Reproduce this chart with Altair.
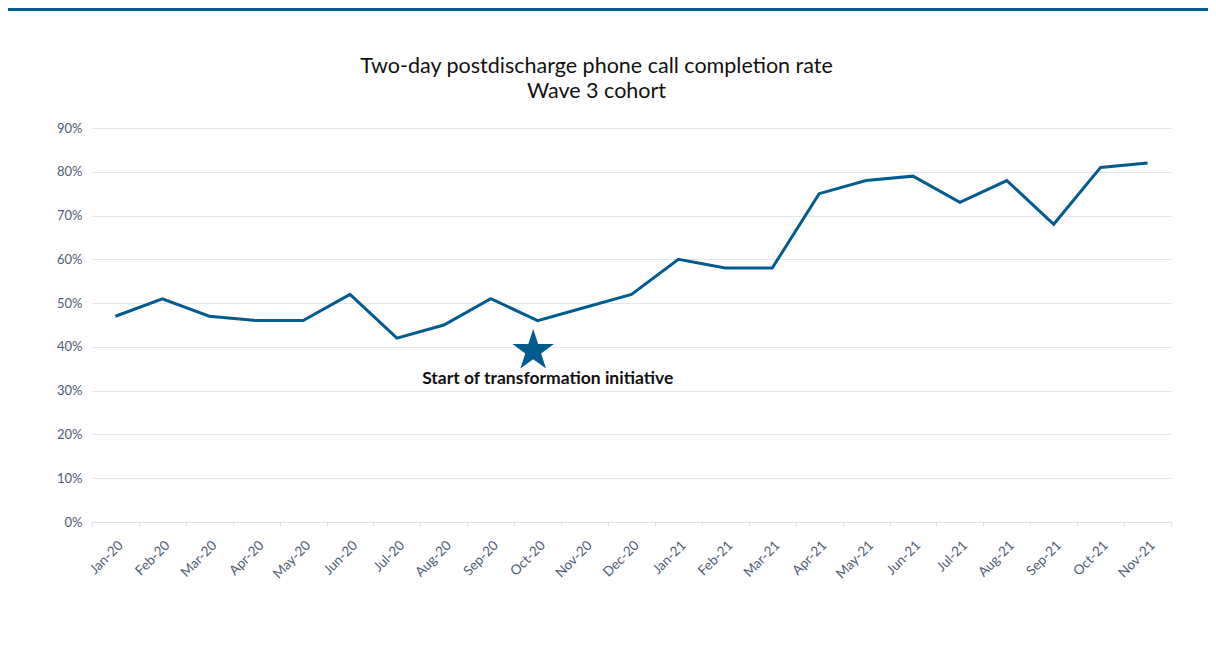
import altair as alt
import pandas as pd

months = ["Jan-20", "Feb-20", "Mar-20", "Apr-20", "May-20", "Jun-20", "Jul-20", "Aug-20",
          "Sep-20", "Oct-20", "Nov-20", "Dec-20", "Jan-21", "Feb-21", "Mar-21", "Apr-21",
          "May-21", "Jun-21", "Jul-21", "Aug-21", "Sep-21", "Oct-21", "Nov-21"]
rates = [0.47, 0.51, 0.47, 0.46, 0.46, 0.52, 0.42, 0.45, 0.51, 0.46, 0.49, 0.52,
         0.60, 0.58, 0.58, 0.75, 0.78, 0.79, 0.73, 0.78, 0.68, 0.81, 0.82]

title_lines = ["Two-day postdischarge phone call completion rate", "Wave 3 cohort"]
annot_month = ["Oct-20"]
annot_value = [0.391]
annot_text = ["Start of transformation initiative"]

BLUE = "#005b8f"
FONT = "Lato"
STAR = ("M0,-1L0.225,-0.309L0.951,-0.309L0.363,0.118L0.588,0.809L0,0.382"
        "L-0.588,0.809L-0.363,0.118L-0.951,-0.309L-0.225,-0.309Z")

df = pd.DataFrame({"month": months, "rate": rates})
ann = pd.DataFrame({"month": annot_month, "rate": annot_value, "label": annot_text})

W, H = 1079, 394

x_enc = alt.X("month:N", sort=months, bandPosition=0.5,
              scale=alt.Scale(type="band", domain=months, paddingInner=0, paddingOuter=0),
              axis=alt.Axis(title=None, orient="bottom", labelAngle=-45, tickBand="extent", grid=False,
                            domainColor="#dde1ea", tickColor="#dde1ea", tickSize=4,
                            labelColor="#4f5d73", labelFont=FONT, labelFontSize=13.5,
                            labelPadding=12))
y_enc = alt.Y("rate:Q", scale=alt.Scale(domain=[0, 0.9], nice=False, zero=True),
              axis=alt.Axis(title=None, orient="left", format=".0%", values=[i / 10 for i in range(10)],
                            grid=True, gridColor="#e3e6ee", domain=False, ticks=False,
                            labelColor="#4f5d73", labelFont=FONT, labelFontSize=13,
                            labelPadding=10))

line = alt.Chart(df).mark_line(color=BLUE, strokeWidth=3).encode(x=x_enc, y=y_enc)

star = alt.Chart(ann).mark_point(shape=STAR, filled=True, color=BLUE, size=1900, opacity=1,
                                 strokeWidth=0).encode(x=x_enc, y=y_enc, xOffset=alt.value(19))

note = alt.Chart(ann).mark_text(font=FONT, fontSize=17.5, fontWeight="bold", color="#111111",
                                dx=10, dy=33, baseline="alphabetic", align="center").encode(
    x=x_enc, y=y_enc, text="label:N")

title1 = alt.Chart(pd.DataFrame({"t": [title_lines[0]]})).mark_text(
    font=FONT, fontSize=21.5, fontWeight="normal", color="#111111", align="center", baseline="alphabetic"
).encode(text="t:N", x=alt.value(504.5), y=alt.value(-55))
title2 = alt.Chart(pd.DataFrame({"t": [title_lines[1]]})).mark_text(
    font=FONT, fontSize=21.5, fontWeight="normal", color="#111111", align="center", baseline="alphabetic"
).encode(text="t:N", x=alt.value(504.5), y=alt.value(-30))

band = alt.Chart(pd.DataFrame({"a": [0]})).mark_rect(color=BLUE).encode(
    x=alt.value(-84), x2=alt.value(1116), y=alt.value(-120), y2=alt.value(-117))

chart = alt.layer(line, star, note, title1, title2, band).properties(
    width=W, height=H,
    autosize=alt.AutoSizeParams(type="none"),
    padding={"left": 84, "top": 120, "right": 37, "bottom": 128},
    background="white",
).configure_view(stroke=None)

chart.save("out.html", embed_options={"renderer": "svg", "actions": False})
